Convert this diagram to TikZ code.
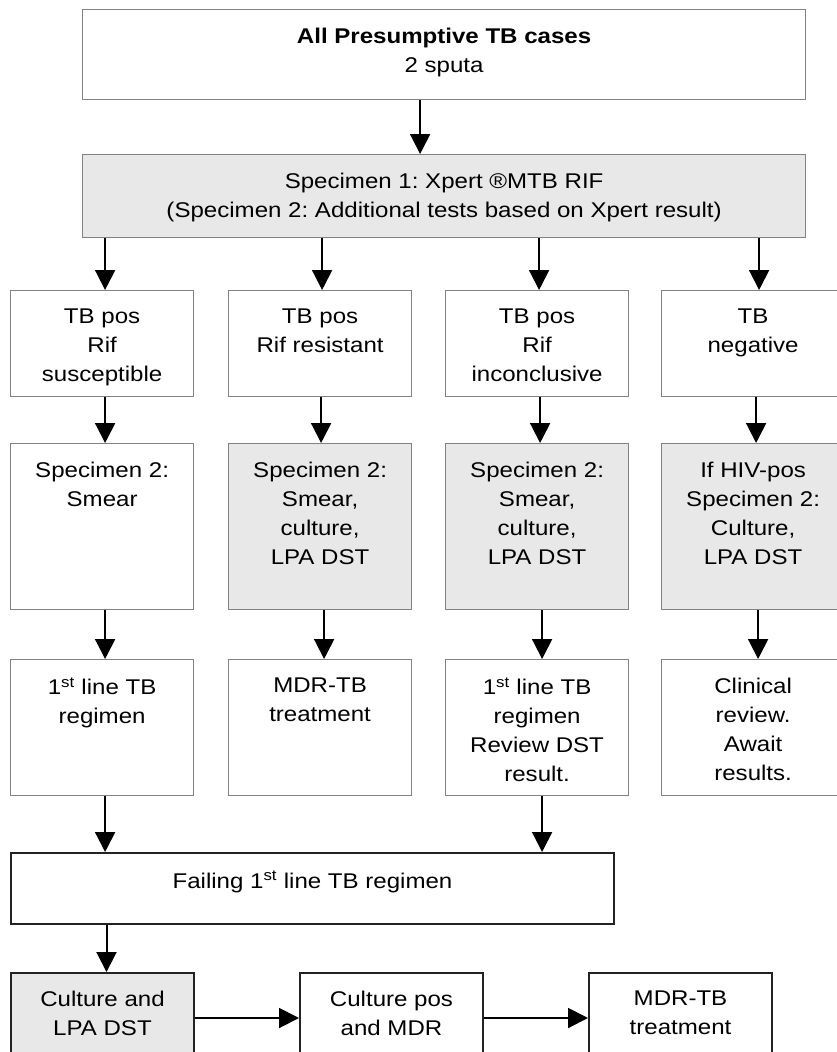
\documentclass[tikz,border=0pt]{standalone}
\usepackage{fontspec}
\setmainfont{Liberation Sans}[FakeStretch=1.13]
\usetikzlibrary{arrows.meta}
\definecolor{shade}{RGB}{232,232,232}
\definecolor{edge}{RGB}{130,130,130}
\definecolor{darkedge}{RGB}{35,35,35}
\frenchspacing

\begin{document}
\begin{tikzpicture}[x=1pt, y=-1pt, box/.style 2 args={draw=edge, line width=1.2pt, anchor=north west, inner xsep=0pt, inner ysep=18pt, font=\fontsize{21.3}{29}\selectfont, execute at begin node={\begin{minipage}[t][\dimexpr #2pt-36pt\relax][t]{#1pt}\centering}, execute at end node={\end{minipage}}}, shaded/.style={fill=shade}, strong/.style={draw=darkedge, line width=2pt}, arrow/.style={-{Triangle[length=20pt, width=20pt]}, line width=2pt}]
\useasboundingbox[fill=white] (0,0) rectangle (837,1052);
% top of the flow
\node[box={723}{90}] (cases) at (82,9) {\textbf{All Presumptive TB cases}\\2 sputa};
\node[box={723}{83}, shaded] (xpert) at (82,154) {Specimen 1: Xpert \textregistered MTB RIF\\(Specimen 2: Additional tests based on Xpert result)};
% Xpert results
\node[box={183}{106}] (sus) at (10,290) {TB pos\\Rif\\susceptible};
\node[box={183}{106}] (res) at (228,290) {TB pos\\Rif resistant};
\node[box={183}{106}] (inc) at (445,290) {TB pos\\Rif\\inconclusive};
\node[box={183}{106}] (neg) at (661,290) {TB\\negative};
% second specimen
\node[box={183}{166}] (smear) at (10,443) {Specimen 2:\\Smear};
\node[box={183}{166}, shaded] (dstres) at (228,443) {Specimen 2:\\Smear,\\culture,\\LPA DST};
\node[box={183}{166}, shaded] (dstinc) at (445,443) {Specimen 2:\\Smear,\\culture,\\LPA DST};
\node[box={183}{166}, shaded] (hiv) at (661,443) {If HIV-pos\\Specimen 2:\\Culture,\\LPA DST};
% management
\node[box={183}{136}] (first) at (10,659) {1\textsuperscript{st} line TB\\regimen};
\node[box={183}{136}] (mdr) at (228,659) {MDR-TB\\treatment};
\node[box={183}{136}] (review) at (445,659) {1\textsuperscript{st} line TB\\regimen\\Review DST\\result.};
\node[box={183}{136}] (clinical) at (661,659) {Clinical\\review.\\Await\\results.};
% failure branch
\node[box={603}{71}, strong] (failing) at (10,852) {Failing 1\textsuperscript{st} line TB regimen};
\node[box={183}{90}, strong, shaded] (lpa) at (10,972) {Culture and\\LPA DST};
\node[box={183}{90}, strong] (cpos) at (299,972) {Culture pos\\and MDR};
\node[box={183}{90}, strong] (mdrtx) at (588,972) {MDR-TB\\treatment};

\draw[arrow] ([xshift=-24pt]cases.south) -- ([xshift=-24pt]xpert.north);
\draw[arrow] ([xshift=3pt]sus.north |- xpert.south) -- ([xshift=3pt]sus.north);
\draw[arrow] ([xshift=2pt]res.north |- xpert.south) -- ([xshift=2pt]res.north);
\draw[arrow] ([xshift=2pt]inc.north |- xpert.south) -- ([xshift=2pt]inc.north);
\draw[arrow] ([xshift=6pt]neg.north |- xpert.south) -- ([xshift=6pt]neg.north);
\draw[arrow] ([xshift=3pt]sus.south) -- ([xshift=3pt]smear.north);
\draw[arrow] ([xshift=1pt]res.south) -- ([xshift=1pt]dstres.north);
\draw[arrow] ([xshift=3pt]inc.south) -- ([xshift=3pt]dstinc.north);
\draw[arrow] ([xshift=3pt]neg.south) -- ([xshift=3pt]hiv.north);
\draw[arrow] ([xshift=3pt]smear.south) -- ([xshift=3pt]first.north);
\draw[arrow] ([xshift=4pt]dstres.south) -- ([xshift=4pt]mdr.north);
\draw[arrow] ([xshift=5pt]dstinc.south) -- ([xshift=5pt]review.north);
\draw[arrow] ([xshift=5pt]hiv.south) -- ([xshift=5pt]clinical.north);
\draw[arrow] ([xshift=3pt]first.south) -- ([xshift=3pt]first.south |- failing.north);
\draw[arrow] ([xshift=5pt]review.south) -- ([xshift=5pt]review.south |- failing.north);
\draw[arrow] ([xshift=4pt]lpa.north |- failing.south) -- ([xshift=4pt]lpa.north);
\draw[arrow] (lpa.east) -- (cpos.west);
\draw[arrow] (cpos.east) -- (mdrtx.west);
\end{tikzpicture}
\end{document}
